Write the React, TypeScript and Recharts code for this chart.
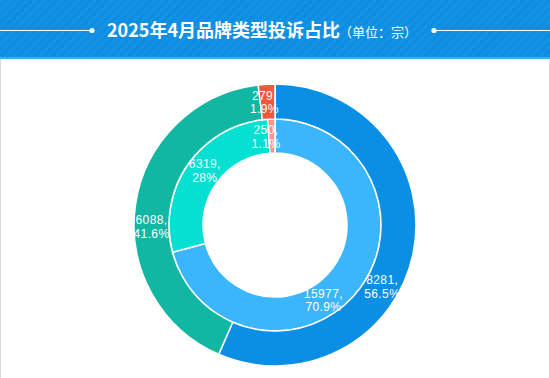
import React from "react";
import { PieChart, Pie, Cell } from "recharts";

const outerNames = ["品牌A", "品牌B", "品牌C"];
const outerValues = [8281, 6088, 279];
const innerNames = ["类型A", "类型B", "类型C"];
const innerValues = [15977, 6319, 250];

const outerColors = ["#0b8fe4", "#12b7a3", "#f4563e"];
const innerColors = ["#3bb5fc", "#05e0d2", "#f5958c"];
const outerLabelShift = [-18, 9, 1.5];
const innerLabelShift = [-19.5, -2.4, 3.8];

const outerData = outerNames.map((n, i) => ({ name: n, value: outerValues[i] }));
const innerData = innerNames.map((n, i) => ({ name: n, value: innerValues[i] }));

const RAD = Math.PI / 180;
const fmtPct = (p: number) => {
  const s = (p * 100).toFixed(1);
  return (s.endsWith(".0") ? s.slice(0, -2) : s) + "%";
};

const FONT = "'Liberation Sans', Arial, sans-serif";

const makeLabel = (shifts: number[]) => (props: any) => {
  const { cx, cy, midAngle, innerRadius, outerRadius, index, value, percent } = props;
  const r = (innerRadius + outerRadius) / 2;
  const a = (midAngle + shifts[index]) * RAD;
  const x = cx + r * Math.cos(-a);
  const y = cy + r * Math.sin(-a);
  return (
    <g>
      <text x={x} y={y - 2} fill="#fff" textAnchor="middle" fontSize={12} letterSpacing={0.4} fontFamily={FONT}>
        {value},
      </text>
      <text x={x} y={y + 11.5} fill="#fff" textAnchor="middle" fontSize={12} letterSpacing={0.4} fontFamily={FONT}>
        {fmtPct(percent)}
      </text>
    </g>
  );
};

export default function App() {
  return (
    <div style={{ position: "absolute", left: 0, top: 0, width: 550, height: 378, background: "#fff", overflow: "hidden" }}>
      <svg width={550} height={60} style={{ position: "absolute", left: 0, top: 0 }}>
        <defs>
          <pattern id="stripes" width="6" height="6" patternUnits="userSpaceOnUse" patternTransform="rotate(45)">
            <rect width="6" height="6" fill="#0b8de1" />
            <rect width="3" height="6" fill="#1592e5" />
          </pattern>
        </defs>
        <rect x={0} y={0} width={550} height={58} fill="url(#stripes)" />
        <rect x={0} y={57} width={550} height={2} fill="#45aaea" />
        <line x1={0} y1={30.5} x2={92} y2={30.5} stroke="#fff" strokeWidth={1.2} />
        <circle cx={92} cy={30.5} r={2.6} fill="#fff" />
        <circle cx={434} cy={30.5} r={2.6} fill="#fff" />
        <line x1={434} y1={30.5} x2={550} y2={30.5} stroke="#fff" strokeWidth={1.2} />
        <text x={107} y={37} fill="#fff" fontSize={18} fontWeight="bold" fontFamily="'Noto Sans CJK SC', sans-serif">
          2025年4月品牌类型投诉占比
        </text>
        <text x={339} y={37} fill="#fff" fontSize={13} fontFamily="'Noto Sans CJK SC', sans-serif">
          （单位：宗）
        </text>
      </svg>
      <div style={{ position: "absolute", left: 0, top: 59, width: 1, height: 319, background: "#d9d9d9" }} />
      <div style={{ position: "absolute", left: 549, top: 59, width: 1, height: 319, background: "#d9d9d9" }} />
      <div style={{ position: "absolute", left: 0, top: 0 }}>
        <PieChart width={550} height={378} margin={{ top: 0, right: 0, bottom: 0, left: 0 }}>
          <Pie
            data={innerData}
            dataKey="value"
            cx={275}
            cy={225}
            innerRadius={72}
            outerRadius={106}
            startAngle={90}
            endAngle={-270}
            stroke="#fff"
            strokeWidth={1.5}
            isAnimationActive={false}
            labelLine={false}
            label={makeLabel(innerLabelShift)}
          >
            {innerData.map((d, i) => (
              <Cell key={d.name} fill={innerColors[i]} />
            ))}
          </Pie>
          <Pie
            data={outerData}
            dataKey="value"
            cx={275}
            cy={225}
            innerRadius={106}
            outerRadius={141}
            startAngle={90}
            endAngle={-270}
            stroke="#fff"
            strokeWidth={1.5}
            isAnimationActive={false}
            labelLine={false}
            label={makeLabel(outerLabelShift)}
          >
            {outerData.map((d, i) => (
              <Cell key={d.name} fill={outerColors[i]} />
            ))}
          </Pie>
        </PieChart>
      </div>
    </div>
  );
}
